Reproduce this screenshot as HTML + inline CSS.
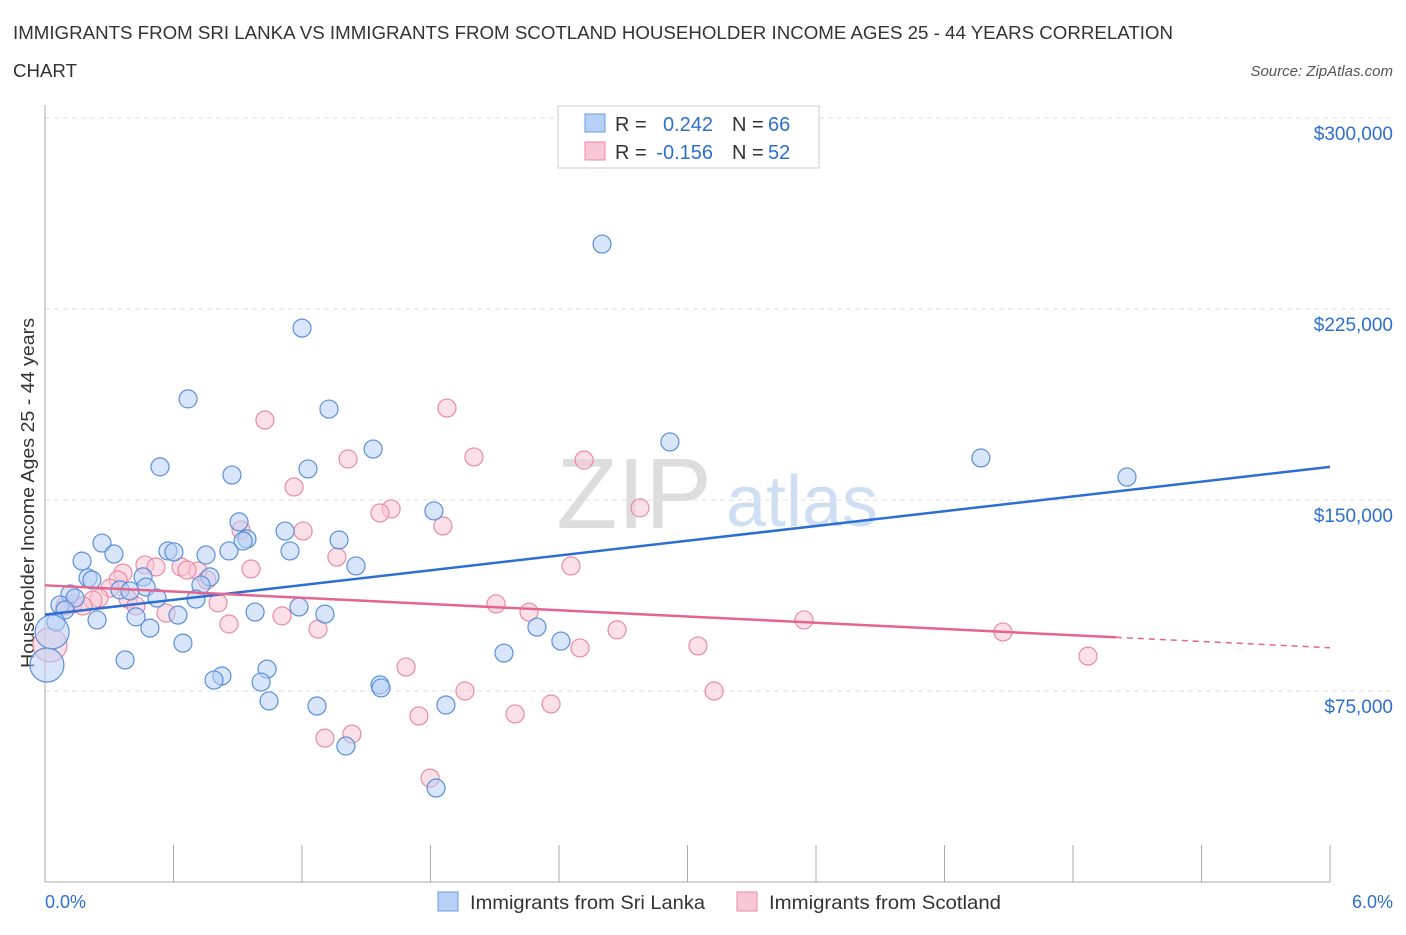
<!DOCTYPE html>
<html><head><meta charset="utf-8"><style>
body{margin:0;background:#fff;font-family:"Liberation Sans",sans-serif;}
svg text{font-family:"Liberation Sans",sans-serif;}
</style></head><body>
<svg id="chart" width="1406" height="930" xmlns="http://www.w3.org/2000/svg">
<text x="13" y="39" font-size="18" fill="#333" textLength="1160" lengthAdjust="spacingAndGlyphs">IMMIGRANTS FROM SRI LANKA VS IMMIGRANTS FROM SCOTLAND HOUSEHOLDER INCOME AGES 25 - 44 YEARS CORRELATION</text>
<text x="13" y="77" font-size="18" fill="#333" textLength="64" lengthAdjust="spacingAndGlyphs">CHART</text>
<text x="1393" y="76" font-size="15" font-style="italic" fill="#555" text-anchor="end">Source: ZipAtlas.com</text>
<text transform="translate(34,493) rotate(-90)" font-size="18" fill="#333" text-anchor="middle" textLength="350" lengthAdjust="spacingAndGlyphs">Householder Income Ages 25 - 44 years</text>
<g>
<text x="634" y="528" font-size="100" font-family="Liberation Serif" fill="#ddd" text-anchor="middle">ZIP</text>
<text x="802" y="526" font-size="72" fill="#cfdff3" text-anchor="middle">atlas</text>
</g>
<g id="grid"></g><g id="axes"></g><g id="pts"></g><g id="trend"></g>
<g>
<rect x="558" y="106" width="261" height="62" fill="#fff" stroke="#ccc"/>
<rect x="585" y="114" width="20" height="18" fill="#b8d0f5" stroke="#6a9ce0"/>
<rect x="585" y="142" width="20" height="18" fill="#f9c6d4" stroke="#e98aa6"/>
<text x="615" y="131" font-size="20" fill="#333">R =</text>
<text x="713" y="131" font-size="20" fill="#2d6fd1" text-anchor="end">0.242</text>
<text x="732" y="131" font-size="20" fill="#333">N =</text>
<text x="768" y="131" font-size="20" fill="#2d6fd1">66</text>
<text x="615" y="159" font-size="20" fill="#333">R =</text>
<text x="713" y="159" font-size="20" fill="#2d6fd1" text-anchor="end">-0.156</text>
<text x="732" y="159" font-size="20" fill="#333">N =</text>
<text x="768" y="159" font-size="20" fill="#2d6fd1">52</text>
</g>
<g>
<rect x="438" y="892" width="20" height="19" fill="#b8d0f5" stroke="#6a9ce0"/>
<text x="470" y="909" font-size="19.5" fill="#333" textLength="235" lengthAdjust="spacingAndGlyphs">Immigrants from Sri Lanka</text>
<rect x="737" y="892" width="20" height="19" fill="#f9c6d4" stroke="#e98aa6"/>
<text x="769" y="909" font-size="19.5" fill="#333" textLength="232" lengthAdjust="spacingAndGlyphs">Immigrants from Scotland</text>
</g>
</svg>
<script>
const yTicks=[75000,150000,225000,300000];
const yTickLabels=["$75,000","$150,000","$225,000","$300,000"];
const xTickLabels=["0.0%","6.0%"];
const blueX=[];const blueY=[];const pinkX=[];const pinkY=[];
const bluePx=[[602,244],[302,328],[188,399],[329,409],[373,449],[670,442],[981,458],[1127,477],[160,467],[308,469],[232,475],[434,511],[239,522],[285,531],[102,543],[168,551],[174,552],[206,555],[229,551],[247,539],[243,541],[290,551],[339,540],[114,554],[82,561],[356,566],[88,578],[92,580],[143,577],[210,577],[201,585],[120,590],[146,587],[70,594],[130,591],[157,598],[196,599],[75,598],[60,605],[65,610],[255,612],[299,607],[325,614],[97,620],[136,617],[178,615],[150,628],[537,627],[56,622],[52,632],[561,641],[183,643],[504,653],[125,660],[267,669],[222,676],[214,680],[261,682],[380,685],[381,688],[269,701],[317,706],[446,705],[346,746],[436,788],[47,665]];
const pinkPx=[[447,408],[265,420],[474,457],[348,459],[584,460],[294,487],[640,508],[391,509],[380,513],[443,526],[241,530],[303,531],[337,557],[571,566],[145,565],[156,567],[181,567],[198,571],[187,570],[251,569],[123,573],[118,580],[207,580],[110,588],[99,598],[128,599],[73,604],[93,600],[218,603],[136,606],[166,613],[83,606],[65,606],[496,604],[529,612],[804,620],[229,624],[282,616],[318,629],[617,630],[1003,632],[580,648],[698,646],[1088,656],[406,667],[465,691],[714,691],[551,704],[419,716],[515,714],[325,738],[352,734],[430,778],[50,645]];
bluePx.forEach(p=>{blueX.push(+((p[0]-45)/1285*6).toFixed(3));blueY.push(Math.round((882-p[1])*300000/764/100)*100);});
pinkPx.forEach(p=>{pinkX.push(+((p[0]-45)/1285*6).toFixed(3));pinkY.push(Math.round((882-p[1])*300000/764/100)*100);});
const blueTrend=[[0,105000],[6,163000]];
const pinkTrend=[[0,116500],[6,92000]];
const pinkSolidEnd=5.0;
const X=v=>45+v/6*1285, Y=v=>882-v*764/300000;
const NS="http://www.w3.org/2000/svg";
function mk(t,a,p){const e=document.createElementNS(NS,t);for(const k in a)e.setAttribute(k,a[k]);p.appendChild(e);return e;}
const grid=document.getElementById('grid'),axes=document.getElementById('axes'),pts=document.getElementById('pts'),tr=document.getElementById('trend');
yTicks.forEach((v,i)=>{
 const l=mk('line',{x1:45,x2:1393,y1:Y(v),y2:Y(v),stroke:'#ddd','stroke-dasharray':'5,4'},grid);
 
 
 const t=mk('text',{x:1393,y:Y(v)+22,'font-size':19,fill:'#2d6fd1','text-anchor':'end'},axes);
 t.textContent=yTickLabels[i];
 
 
});
const ax=mk('line',{x1:45,x2:1330,y1:882,y2:882,stroke:'#aaa'},axes);


const ay=mk('line',{x1:45,x2:45,y1:105,y2:882,stroke:'#aaa'},axes);


for(let i=0;i<=10;i++){const tk=mk('line',{x1:X(i*0.6),x2:X(i*0.6),y1:845,y2:882,stroke:'#aaa'},axes);
 
 }
[[0,'start',45],[1,'end',1393]].forEach(a=>{const t=mk('text',{x:a[2],y:908,'font-size':18,fill:'#2d6fd1','text-anchor':a[1]},axes);t.textContent=xTickLabels[a[0]];
 
 });
function dots(xs,ys,fill,stroke,name){xs.forEach((x,i)=>{const big=x<0.05;const c=mk('circle',{cx:X(x),cy:Y(ys[i]),r:big?17:9,fill:fill,'fill-opacity':0.55,stroke:stroke,'stroke-width':1.2},pts);
 
 });}
dots(pinkX,pinkY,'#f9c6d4','#e98aa6','scotland-point');
dots(blueX,blueY,'#b8d0f5','#5a8fdc','sri-lanka-point');
const bl=mk('line',{x1:X(blueTrend[0][0]),y1:Y(blueTrend[0][1]),x2:X(blueTrend[1][0]),y2:Y(blueTrend[1][1]),stroke:'#2d6fd1','stroke-width':2.5},tr);


const py=x=>pinkTrend[0][1]+(pinkTrend[1][1]-pinkTrend[0][1])*x/6;
const pl=mk('line',{x1:X(0),y1:Y(py(0)),x2:X(pinkSolidEnd),y2:Y(py(pinkSolidEnd)),stroke:'#e5648e','stroke-width':2.5},tr);


const pd=mk('line',{x1:X(pinkSolidEnd),y1:Y(py(pinkSolidEnd)),x2:X(6),y2:Y(py(6)),stroke:'#e5648e','stroke-width':1.5,'stroke-dasharray':'6,5'},tr);


</script>
</body></html>
